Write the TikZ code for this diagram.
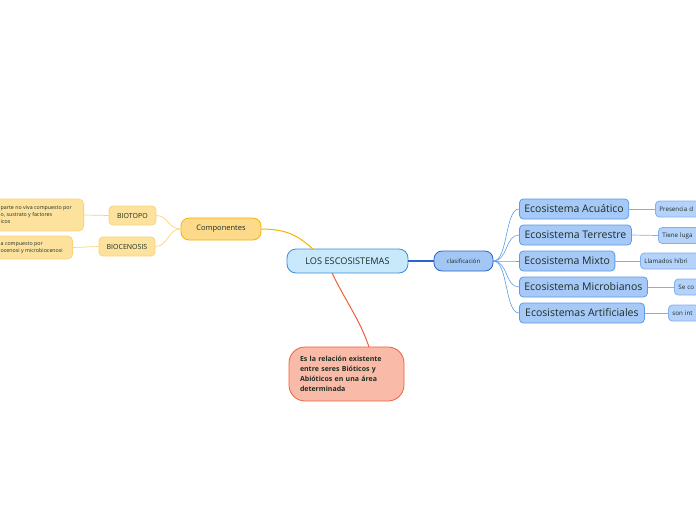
\documentclass[tikz,border=0pt]{standalone}
\usepackage{fontspec}
\setmainfont{Open Sans}
\definecolor{txt}{HTML}{1C2E24}
\definecolor{cfill}{HTML}{C8E8FB}
\definecolor{cdraw}{HTML}{3A8ED6}
\definecolor{kfill}{HTML}{A2C7F5}
\definecolor{kdraw}{HTML}{2A64C9}
\definecolor{efill}{HTML}{A7C9F8}
\definecolor{edraw}{HTML}{5C9BE9}
\definecolor{gfill}{HTML}{B4D2FA}
\definecolor{gdraw}{HTML}{7FB0F0}
\definecolor{ofill}{HTML}{FDD98A}
\definecolor{odraw}{HTML}{F5B400}
\definecolor{yfill}{HTML}{FDE29E}
\definecolor{ydraw}{HTML}{FBD37A}
\definecolor{rfill}{HTML}{F9BBA8}
\definecolor{rdraw}{HTML}{F0603A}
\tikzset{
  box/.style={rounded corners=#1, line width=0.8pt, text=txt, inner sep=0pt, align=left},
  box/.default=6pt,
}
\begin{document}
\begin{tikzpicture}[x=1pt,y=-1pt]
\useasboundingbox (0,0) rectangle (696,520);
\clip (0,0) rectangle (696,520);
% central
\node[box=9pt, draw=cdraw, fill=cfill, minimum width=121pt, minimum height=24pt, font=\fontsize{9.2}{10}\selectfont] (c) at (347.5,261) {LOS ESCOSISTEMAS};
\node[box=8pt, draw=kdraw, fill=kfill, minimum width=59pt, minimum height=20pt, font=\fontsize{6}{7}\selectfont] (k) at (463.5,261) {clasificación};
\node[box=8pt, draw=odraw, fill=ofill, minimum width=80pt, minimum height=22pt, font=\fontsize{7.5}{9}\selectfont] (comp) at (221,229) {Componentes};
\node[box=4pt, draw=ydraw, fill=yfill, minimum width=47pt, minimum height=19pt, font=\fontsize{7}{8}\selectfont] (bt) at (132.5,215.5) {BIOTOPO};
\node[box=4pt, draw=ydraw, fill=yfill, minimum width=56pt, minimum height=19pt, font=\fontsize{7}{8}\selectfont] (bc) at (127,246.5) {BIOCENOSIS};
\node[box=5pt, draw=ydraw, fill=yfill, minimum width=100pt, minimum height=32pt, anchor=east] (btt) at (84,215) {};
\node[anchor=west, inner sep=0pt, text=txt, align=left, font=\fontsize{5.3}{7}\selectfont] at (0.5,215) {parte no viva compuesto por\\o, sustrato y factores\\icos};
\node[box=5pt, draw=ydraw, fill=yfill, minimum width=90pt, minimum height=23pt, anchor=east] (bct) at (73,247.5) {};
\node[anchor=west, inner sep=0pt, text=txt, align=left, font=\fontsize{5.3}{7}\selectfont] at (0.5,247.5) {a compuesto por\\ocenosi y microbiocenosi};
\node[box=16pt, draw=rdraw, fill=rfill, minimum width=115pt, minimum height=54pt, font=\fontsize{7}{10}\selectfont\bfseries, text width=93pt] (r) at (346.5,374) {Es la relación existente\\entre seres Bióticos y\\Abióticos en una área\\determinada};
% classification children
\tikzset{eco/.style={box=4pt, draw=edraw, fill=efill, minimum height=20pt, anchor=west, inner xsep=5pt, font=\fontsize{10.5}{12}\selectfont},
  gr/.style={box=4pt, draw=gdraw, fill=gfill, minimum height=16pt, anchor=west, inner xsep=4pt, font=\fontsize{6.2}{7}\selectfont, minimum width=70pt, text width=62pt}}
\node[eco, minimum width=109pt] (e1) at (519,209) {Ecosistema Acuático};
\node[eco, minimum width=112pt] (e2) at (519,235) {Ecosistema Terrestre};
\node[eco, minimum width=95pt] (e3) at (519,261) {Ecosistema Mixto};
\node[eco, minimum width=128pt] (e4) at (519,287) {Ecosistema Microbianos};
\node[eco, minimum width=125pt] (e5) at (519,313) {Ecosistemas Artificiales};
\node[gr] (g1) at (655,209) {Presencia d};
\node[gr] (g2) at (658,235.5) {Tiene luga};
\node[gr] (g3) at (640,261) {Llamados híbri};
\node[gr] (g4) at (674,287) {Se co};
\node[gr] (g5) at (668,313) {son int};
% connectors
\draw[odraw, line width=1pt] (comp.east) .. controls (290,229) and (300,238) .. (313,249);
\draw[rdraw, line width=1pt] (332,273) .. controls (345,300) and (360,320) .. (369,347);
\draw[kdraw, line width=1.2pt] (c.east) -- (k.west);
\draw[ydraw, line width=0.7pt] (comp.west) .. controls (168,229) and (168,215.5) .. (bt.east);
\draw[ydraw, line width=0.7pt] (comp.west) .. controls (168,229) and (168,246.5) .. (bc.east);
\draw[ydraw, line width=0.7pt] (bt.west) -- (btt.east);
\draw[ydraw, line width=0.7pt] (bc.west) -- (bct.east);
\foreach \i in {1,...,5}{
  \draw[edraw, line width=0.6pt] (k.east) .. controls (508,261) and (505,0|-e\i.west) .. (e\i.west);
  \draw[gdraw, line width=0.7pt] (e\i.east) -- (g\i.west);
}
\end{tikzpicture}
\end{document}
